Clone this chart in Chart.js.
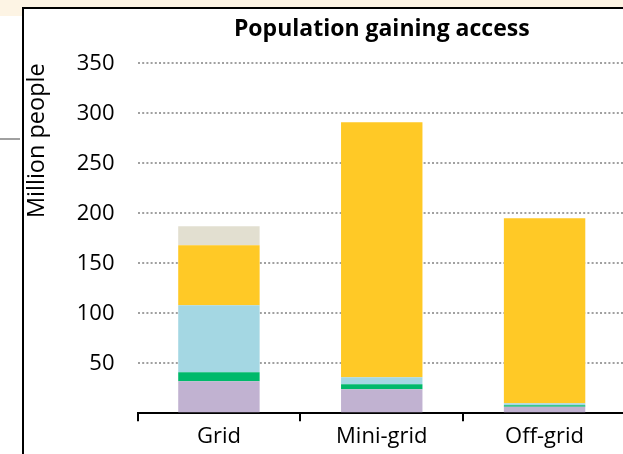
<!DOCTYPE html>
<html>
<head>
<meta charset="utf-8">
<script src="https://cdn.jsdelivr.net/npm/chart.js@4"></script>
<style>
  html, body { margin: 0; padding: 0; background: #ffffff; overflow: hidden; }
  body { width: 623px; height: 454px; position: relative; }
  #wrap { position: absolute; left: 0; top: 0; width: 640px; height: 454px; }
  .deco { position: absolute; z-index: 2; }
</style>
</head>
<body>
<div class="deco" style="left:0;top:0;width:623px;height:7px;background:#fdf4e4;"></div>
<div class="deco" style="left:0;top:0;width:22px;height:16px;background:#fdf4e4;"></div>
<div class="deco" style="left:22px;top:7px;width:601px;height:2px;background:#000;"></div>
<div class="deco" style="left:22px;top:7px;width:2px;height:447px;background:#000;"></div>
<div class="deco" style="left:0;top:138px;width:20px;height:2px;background:#a0a0a0;"></div>
<div id="wrap"><canvas id="c" width="640" height="454"></canvas></div>
<script>
const categories = ["Grid", "Mini-grid", "Off-grid"];
const seriesNames = ["Series 1", "Series 2", "Series 3", "Series 4", "Series 5"];
const series1 = [32, 24, 6.5];
const series2 = [9, 5, 1.5];
const series3 = [67, 7, 2];
const series4 = [60, 255, 185];
const series5 = [19, 0, 0];
const yTicks = [0, 50, 100, 150, 200, 250, 300, 350];
const colors = ["#c1b2d1", "#00b96b", "#a4d7e3", "#ffc926", "#e2dfd0"];

const FONT = "'Open Sans', 'Noto Sans', sans-serif";
const allSeries = [series1, series2, series3, series4, series5];

new Chart(document.getElementById('c'), {
  type: 'bar',
  data: {
    labels: categories,
    datasets: allSeries.map((d, i) => ({
      label: seriesNames[i],
      data: d,
      backgroundColor: colors[i],
      borderWidth: 0,
      categoryPercentage: 1.0,
      barPercentage: 0.5
    }))
  },
  options: {
    responsive: false,
    animation: false,
    layout: { padding: { left: 0, right: 14, top: 0, bottom: 0 } },
    plugins: {
      legend: { display: false },
      tooltip: { enabled: false },
      title: {
        display: true,
        text: 'Population gaining access',
        fullSize: false,
        color: '#000',
        font: { family: FONT, size: 23, weight: 'bold' },
        padding: { top: 16, bottom: 19.7 }
      }
    },
    scales: {
      x: {
        stacked: true,
        grid: {
          display: true,
          offset: true,
          drawOnChartArea: false,
          drawTicks: true,
          tickLength: 8,
          color: '#000',
          lineWidth: 2
        },
        border: { display: true, color: '#000', width: 2 },
        ticks: {
          color: '#000',
          font: { family: FONT, size: 22 },
          padding: 2,
          maxRotation: 0
        },
        afterFit: (s) => { s.height = 454 - 413.3; }
      },
      y: {
        stacked: true,
        min: 0,
        max: 350,
        afterBuildTicks: (s) => { s.ticks = yTicks.map(v => ({ value: v })); },
        grid: {
          drawTicks: false,
          color: (ctx) => (ctx.tick && ctx.tick.value === 0) ? 'rgba(0,0,0,0)' : '#a0a0a0',
          lineWidth: 2
        },
        border: { display: false, dash: [2, 2.2] },
        ticks: {
          color: '#000',
          font: { family: FONT, size: 22 },
          padding: 23,
          callback: (v) => v === 0 ? '' : String(v)
        },
        title: {
          display: true,
          text: 'Million people',
          align: 'end',
          color: '#000',
          font: { family: FONT, size: 23.5 },
          padding: { top: 23, bottom: 0 }
        },
        afterFit: (s) => { s.width = 137.5; }
      }
    }
  }
});
</script>
</body>
</html>
